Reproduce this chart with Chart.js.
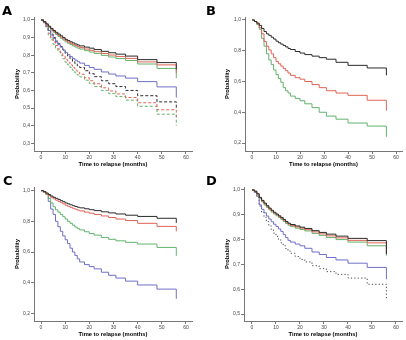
<!DOCTYPE html>
<html>
<head>
<meta charset="utf-8">
<title>Time to relapse</title>
<script src="https://cdn.jsdelivr.net/npm/chart.js@4.4.1/dist/chart.umd.min.js"></script>
<style>
  body { margin: 0; background: #fff; }
  #wrap { position: relative; width: 406px; height: 340px; }
  canvas { position: absolute; }
</style>
</head>
<body>
<div id="wrap">
  <canvas id="panelA" width="203" height="170" style="left:0;top:0"></canvas>
  <canvas id="panelB" width="203" height="170" style="left:203px;top:0"></canvas>
  <canvas id="panelC" width="203" height="170" style="left:0;top:170px"></canvas>
  <canvas id="panelD" width="203" height="170" style="left:203px;top:170px"></canvas>
</div>
<script>
// months where the survival curves are read (last one = final drop at 56)
const months = [0, 1, 2, 3, 4, 5, 6, 7, 8, 9, 10, 11, 12, 13, 14, 15, 16, 18, 20, 22, 25, 28, 31, 35, 40, 48, 56];

// tick labels
const xTicks = [0, 10, 20, 30, 40, 50, 60];
const yTicksA = [0.3, 0.4, 0.5, 0.6, 0.7, 0.8, 0.9, 1.0];
const yTicksB = [0.2, 0.4, 0.6, 0.8, 1.0];
const yTicksC = [0.2, 0.4, 0.6, 0.8, 1.0];
const yTicksD = [0.5, 0.6, 0.7, 0.8, 0.9, 1.0];

// panel A
const aBlack = [1, 0.99, 0.978, 0.965, 0.952, 0.94, 0.93, 0.92, 0.91, 0.9, 0.89, 0.883, 0.876, 0.87, 0.864, 0.858, 0.853, 0.846, 0.84, 0.832, 0.822, 0.814, 0.806, 0.795, 0.775, 0.758, 0.72];
const aRed = [1, 0.99, 0.976, 0.962, 0.948, 0.935, 0.924, 0.913, 0.903, 0.893, 0.883, 0.875, 0.868, 0.861, 0.855, 0.849, 0.843, 0.835, 0.828, 0.82, 0.81, 0.801, 0.793, 0.782, 0.762, 0.745, 0.7];
const aGreen = [1, 0.99, 0.974, 0.958, 0.943, 0.93, 0.918, 0.907, 0.896, 0.886, 0.876, 0.868, 0.86, 0.853, 0.846, 0.84, 0.835, 0.826, 0.818, 0.81, 0.799, 0.79, 0.781, 0.77, 0.75, 0.725, 0.67];
const aBlue = [1, 0.985, 0.965, 0.94, 0.915, 0.895, 0.875, 0.86, 0.845, 0.83, 0.815, 0.803, 0.792, 0.782, 0.772, 0.763, 0.755, 0.742, 0.73, 0.72, 0.705, 0.693, 0.682, 0.67, 0.65, 0.62, 0.56];
const aBlackDash = [1, 0.99, 0.975, 0.94, 0.92, 0.9, 0.88, 0.865, 0.85, 0.83, 0.81, 0.795, 0.78, 0.765, 0.752, 0.74, 0.73, 0.712, 0.695, 0.678, 0.655, 0.638, 0.622, 0.6, 0.57, 0.535, 0.5];
const aRedDash = [1, 0.985, 0.965, 0.925, 0.9, 0.875, 0.855, 0.835, 0.815, 0.795, 0.775, 0.76, 0.745, 0.73, 0.715, 0.703, 0.692, 0.672, 0.655, 0.638, 0.615, 0.597, 0.58, 0.56, 0.53, 0.49, 0.45];
const aGreenDash = [1, 0.985, 0.96, 0.915, 0.888, 0.862, 0.84, 0.82, 0.8, 0.78, 0.76, 0.745, 0.73, 0.715, 0.7, 0.688, 0.677, 0.658, 0.64, 0.622, 0.6, 0.582, 0.565, 0.545, 0.51, 0.465, 0.4];

// panel B
const bBlack = [1, 0.99, 0.98, 0.965, 0.945, 0.925, 0.91, 0.9, 0.888, 0.876, 0.862, 0.852, 0.843, 0.834, 0.825, 0.815, 0.808, 0.795, 0.785, 0.775, 0.765, 0.755, 0.745, 0.725, 0.705, 0.688, 0.64];
const bRed = [1, 0.99, 0.975, 0.95, 0.91, 0.86, 0.83, 0.805, 0.78, 0.755, 0.73, 0.715, 0.7, 0.685, 0.67, 0.655, 0.64, 0.625, 0.615, 0.6, 0.58, 0.56, 0.54, 0.525, 0.51, 0.478, 0.41];
const bGreen = [1, 0.99, 0.97, 0.94, 0.88, 0.83, 0.78, 0.74, 0.71, 0.675, 0.645, 0.62, 0.595, 0.56, 0.54, 0.525, 0.505, 0.49, 0.475, 0.455, 0.43, 0.4, 0.375, 0.355, 0.33, 0.31, 0.24];

// panel C
const cBlack = [1, 0.995, 0.985, 0.975, 0.965, 0.957, 0.95, 0.943, 0.935, 0.928, 0.92, 0.914, 0.908, 0.902, 0.897, 0.892, 0.888, 0.882, 0.876, 0.87, 0.862, 0.855, 0.848, 0.84, 0.832, 0.82, 0.79];
const cRed = [1, 0.99, 0.98, 0.968, 0.957, 0.947, 0.938, 0.93, 0.922, 0.914, 0.905, 0.898, 0.891, 0.885, 0.879, 0.873, 0.868, 0.86, 0.853, 0.845, 0.835, 0.825, 0.815, 0.805, 0.787, 0.767, 0.735];
const cGreen = [1, 0.99, 0.975, 0.95, 0.92, 0.895, 0.875, 0.86, 0.845, 0.83, 0.815, 0.8, 0.787, 0.775, 0.763, 0.752, 0.744, 0.732, 0.72, 0.71, 0.695, 0.683, 0.673, 0.663, 0.652, 0.63, 0.575];
const cBlue = [1, 0.99, 0.975, 0.93, 0.88, 0.845, 0.8, 0.765, 0.735, 0.705, 0.68, 0.655, 0.625, 0.6, 0.578, 0.555, 0.535, 0.518, 0.505, 0.49, 0.468, 0.448, 0.43, 0.41, 0.385, 0.358, 0.295];

// panel D
const dBlack = [1, 0.995, 0.985, 0.97, 0.958, 0.947, 0.937, 0.927, 0.918, 0.91, 0.903, 0.896, 0.889, 0.881, 0.873, 0.866, 0.861, 0.855, 0.85, 0.845, 0.836, 0.829, 0.822, 0.814, 0.805, 0.796, 0.742];
const dRed = [1, 0.995, 0.983, 0.968, 0.955, 0.944, 0.934, 0.924, 0.915, 0.907, 0.9, 0.893, 0.886, 0.878, 0.87, 0.863, 0.857, 0.851, 0.846, 0.84, 0.831, 0.823, 0.815, 0.807, 0.797, 0.787, 0.745];
const dGreen = [1, 0.993, 0.98, 0.965, 0.952, 0.94, 0.93, 0.92, 0.911, 0.903, 0.896, 0.889, 0.882, 0.873, 0.865, 0.858, 0.852, 0.846, 0.841, 0.835, 0.825, 0.817, 0.808, 0.8, 0.79, 0.775, 0.735];
const dBlue = [1, 0.99, 0.975, 0.94, 0.922, 0.908, 0.895, 0.883, 0.872, 0.862, 0.853, 0.843, 0.833, 0.82, 0.808, 0.797, 0.79, 0.782, 0.775, 0.765, 0.75, 0.74, 0.728, 0.718, 0.705, 0.688, 0.64];
const dDotted = [1, 0.99, 0.97, 0.935, 0.91, 0.89, 0.872, 0.856, 0.84, 0.826, 0.813, 0.8, 0.787, 0.775, 0.764, 0.754, 0.745, 0.732, 0.72, 0.71, 0.695, 0.683, 0.671, 0.66, 0.645, 0.62, 0.556];

const BLACK = '#2a2a2a';
const RED = '#e06455';
const GREEN = '#62b36c';
const BLUE = '#6f6fc6';
const GREY = '#444';

Chart.defaults.font.family = '"Liberation Sans", Arial, sans-serif';

// km step line
function km(values, color, dash) {
  return {
    data: months.map((m, i) => ({ x: m, y: values[i] })),
    borderColor: color,
    borderWidth: 1,
    borderDash: dash || [],
    stepped: true,
    pointRadius: 0,
    fill: false,
  };
}

const panelLetter = {
  id: 'panelLetter',
  afterDraw(chart, args, opts) {
    const ctx = chart.ctx;
    ctx.save();
    ctx.font = 'bold 13px "DejaVu Sans"';
    ctx.fillStyle = '#000';
    ctx.textBaseline = 'alphabetic';
    ctx.fillText(opts.text, opts.x, 14.5);
    ctx.restore();
  },
};

function makePanel(id, letter, datasets, yTicks, f) {
  return new Chart(document.getElementById(id), {
    type: 'line',
    data: { datasets: datasets },
    plugins: [panelLetter],
    options: {
      responsive: false,
      animation: false,
      layout: { padding: { top: f.top, right: 203 - f.right, left: 0, bottom: 0 } },
      plugins: {
        legend: { display: false },
        tooltip: { enabled: false },
        panelLetter: { text: letter, x: f.letterX },
      },
      scales: {
        x: {
          type: 'linear',
          min: f.xMin,
          max: f.xMax,
          afterBuildTicks: (s) => { s.ticks = xTicks.map((v) => ({ value: v })); },
          afterFit: (s) => { s.height = 170 - f.bottom; },
          ticks: { font: { size: 5 }, color: '#444', padding: 1, maxRotation: 0 },
          grid: { drawOnChartArea: false, tickLength: 3, color: '#777' },
          border: { color: '#777' },
          title: {
            display: true,
            text: 'Time to relapse (months)',
            font: { size: 5.8, weight: 'bold' },
            color: '#000',
            padding: { top: 0, bottom: 2.5 },
          },
        },
        y: {
          type: 'linear',
          min: f.yMin,
          max: f.yMax,
          afterBuildTicks: (s) => { s.ticks = yTicks.map((v) => ({ value: v })); },
          afterFit: (s) => { s.width = f.left; },
          ticks: {
            font: { size: 5 },
            color: '#444',
            padding: 1,
            callback: (v) => v.toFixed(1).replace('.', ','),
          },
          grid: { drawOnChartArea: false, tickLength: 3, color: '#777' },
          border: { color: '#777' },
          title: {
            display: true,
            text: 'Probability',
            font: { size: 5.8, weight: 'bold' },
            color: '#000',
            padding: { top: f.titlePad, bottom: 0 },
          },
        },
      },
    },
  });
}

// render panels
makePanel('panelA', 'A', [
  km(aBlack, BLACK), km(aRed, RED), km(aGreen, GREEN), km(aBlue, BLUE),
  km(aBlackDash, BLACK, [3, 2]), km(aRedDash, RED, [3, 2]), km(aGreenDash, GREEN, [3, 2]),
], yTicksA, { left: 34, right: 192, top: 17, bottom: 151, xMin: -2.9, xMax: 62.5, yMin: 0.256, yMax: 1.017, titlePad: 13.5, letterX: 2 });

makePanel('panelB', 'B', [
  km(bBlack, BLACK), km(bRed, RED), km(bGreen, GREEN),
], yTicksB, { left: 42, right: 199, top: 17, bottom: 151, xMin: -2.92, xMax: 62.5, yMin: 0.148, yMax: 1.0195, titlePad: 20.5, letterX: 3 });

makePanel('panelC', 'C', [
  km(cBlack, BLACK), km(cRed, RED), km(cGreen, GREEN), km(cBlue, BLUE),
], yTicksC, { left: 34, right: 192, top: 17, bottom: 151, xMin: -2.9, xMax: 62.5, yMin: 0.15, yMax: 1.024, titlePad: 13.5, letterX: 3 });

makePanel('panelD', 'D', [
  km(dBlack, BLACK), km(dRed, RED), km(dGreen, GREEN), km(dBlue, BLUE),
  km(dDotted, GREY, [1.2, 2.2]),
], yTicksD, { left: 41, right: 199, top: 17, bottom: 151, xMin: -3.33, xMax: 62.5, yMin: 0.472, yMax: 1.012, titlePad: 20.5, letterX: 3 });
</script>
</body>
</html>
